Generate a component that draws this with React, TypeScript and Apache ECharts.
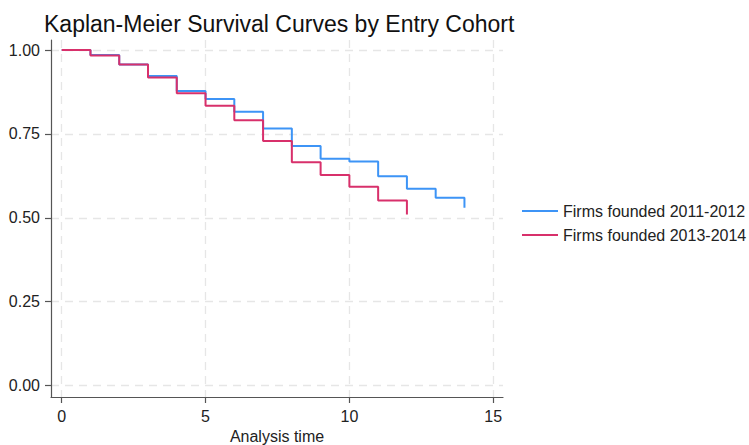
import React, { useEffect, useRef } from "react";
import * as echarts from "echarts";

const timesBlue = [0, 1, 2, 3, 4, 5, 6, 7, 8, 9, 10, 11, 12, 13, 14];
const survBlue = [1, 0.985, 0.957, 0.923, 0.878, 0.854, 0.816, 0.766, 0.714, 0.676, 0.668, 0.624, 0.587, 0.56, 0.53];
const timesRed = [0, 1, 2, 3, 4, 5, 6, 7, 8, 9, 10, 11, 12];
const survRed = [1, 0.984, 0.957, 0.918, 0.871, 0.834, 0.791, 0.729, 0.666, 0.628, 0.593, 0.552, 0.51];
const seriesNames = ["Firms founded 2011-2012", "Firms founded 2013-2014"];
const xTicks = [0, 5, 10, 15];
const yTicks = [0, 0.25, 0.5, 0.75, 1];

export default function App() {
  const ref = useRef<HTMLDivElement>(null);
  useEffect(() => {
    if (!ref.current) return;
    const chart = echarts.init(ref.current, null, { renderer: "svg" });
    const font = "'Liberation Sans', Arial, sans-serif";
    const axisLine = { show: true, onZero: false, lineStyle: { color: "#555", width: 1.2 } };
    const axisTick = { show: true, length: 6, lineStyle: { color: "#555", width: 1.2 } };
    const splitLine = { show: true, lineStyle: { color: "#e6e6e6", type: [8, 6], width: 1.3 } };
    chart.setOption({
      animation: false,
      textStyle: { fontFamily: font },
      title: {
        text: "Kaplan-Meier Survival Curves by Entry Cohort",
        left: 39,
        top: 7,
        textStyle: { fontSize: 23, fontWeight: "normal", color: "#111", fontFamily: font },
      },
      legend: {
        orient: "vertical",
        left: 517,
        top: 198,
        itemWidth: 36,
        itemHeight: 2,
        itemGap: 8,
        icon: "rect",
        textStyle: { fontSize: 16, color: "#222", fontFamily: font },
        data: seriesNames,
      },
      grid: {
        left: 51,
        top: 40,
        width: 452,
        height: 357,
        containLabel: false,
        outerBoundsMode: "none",
      },
      xAxis: {
        type: "value",
        min: -0.372,
        max: 15.34,
        name: "Analysis time",
        nameLocation: "middle",
        nameGap: 31,
        nameTextStyle: { fontSize: 16, color: "#222", fontFamily: font },
        axisLine,
        splitLine,
        axisTick: { ...axisTick, customValues: xTicks },
        axisLabel: { customValues: xTicks, fontSize: 16, color: "#222", margin: 11, fontFamily: font },
      },
      yAxis: {
        type: "value",
        min: -0.034,
        max: 1.03,
        axisLine,
        splitLine,
        axisTick: { ...axisTick, customValues: yTicks },
        axisLabel: {
          customValues: yTicks,
          fontSize: 16,
          color: "#222",
          margin: 11,
          fontFamily: font,
          formatter: (v: number) => v.toFixed(2),
        },
      },
      series: [
        {
          name: seriesNames[0],
          type: "line",
          step: "end",
          showSymbol: false,
          lineStyle: { color: "#3d94f6", width: 2 },
          itemStyle: { color: "#3d94f6" },
          data: timesBlue.map((t, i) => [t, survBlue[i]]),
        },
        {
          name: seriesNames[1],
          type: "line",
          step: "end",
          showSymbol: false,
          lineStyle: { color: "#d8306b", width: 2 },
          itemStyle: { color: "#d8306b" },
          data: timesRed.map((t, i) => [t, survRed[i]]),
        },
      ],
    });
    return () => chart.dispose();
  }, []);
  return (
    <div
      ref={ref}
      style={{ width: 749, height: 445, position: "fixed", left: 0, top: 0, background: "#fff" }}
    />
  );
}
